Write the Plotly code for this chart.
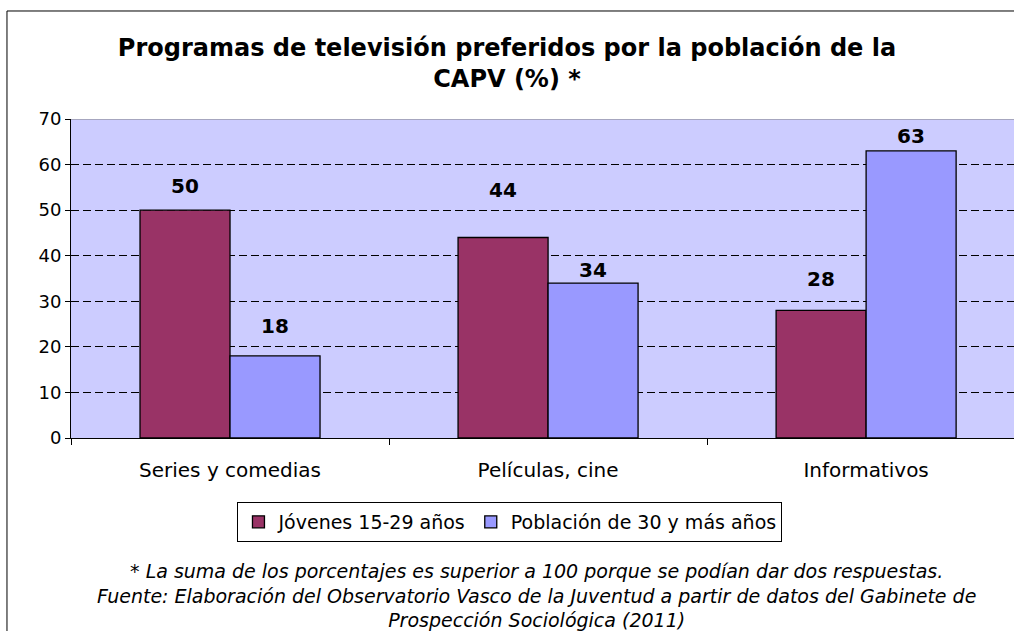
import plotly.graph_objects as go

# Data
categories = ["Series y comedias", "Películas, cine", "Informativos"]
jovenes = [50, 44, 28]
adultos = [18, 34, 63]
series_names = ["Jóvenes 15-29 años", "Población de 30 y más años"]
y_ticks = [0, 10, 20, 30, 40, 50, 60, 70]

title_text = "Programas de televisión preferidos por la población de la<br>CAPV (%) *"
note_text = (
    "* La suma de los porcentajes es superior a 100 porque se podían dar dos respuestas.<br>"
    "Fuente: Elaboración del Observatorio Vasco de la Juventud a partir de datos del Gabinete de<br>"
    "Prospección Sociológica (2011)"
)

# label offsets above bar tops (px), placed by hand in the original
shift_jov = [24, 47, 31]
shift_adu = [30, 13, 15]

FONT = "DejaVu Sans, Verdana, sans-serif"

fig = go.Figure()
fig.add_trace(go.Bar(
    x=categories, y=jovenes, name=series_names[0],
    marker=dict(color="#993366", line=dict(color="black", width=1.3)),
))
fig.add_trace(go.Bar(
    x=categories, y=adultos, name=series_names[1],
    marker=dict(color="#9999FF", line=dict(color="black", width=1.3)),
))

# data labels
for cat, v, s in zip(categories, jovenes, shift_jov):
    fig.add_annotation(x=cat, y=v, text=f"<b>{v}</b>", showarrow=False,
                       xshift=-45, yshift=s, yanchor="middle",
                       font=dict(family=FONT, size=20, color="black"))
for cat, v, s in zip(categories, adultos, shift_adu):
    fig.add_annotation(x=cat, y=v, text=f"<b>{v}</b>", showarrow=False,
                       xshift=45, yshift=s, yanchor="middle",
                       font=dict(family=FONT, size=20, color="black"))

# footnote
fig.add_annotation(xref="paper", yref="paper", x=0.494, y=-0.495,
                   text=f"<i>{note_text}</i>", showarrow=False,
                   xanchor="center", yanchor="middle", align="center",
                   font=dict(family=FONT, size=19, color="black"))

# top border of plot area
fig.add_shape(type="line", xref="paper", yref="y", x0=0, x1=1, y0=70, y1=70,
              line=dict(color="#808080", width=1))
# outer chart border
fig.add_shape(type="rect", xref="paper", yref="paper",
              x0=-0.0679, x1=1.05, y0=-1.2, y1=1.3386,
              line=dict(color="black", width=1), layer="above")

fig.update_layout(
    width=1014, height=631,
    margin=dict(l=71, r=0, t=119, b=193),
    paper_bgcolor="white",
    plot_bgcolor="#CCCCFF",
    barmode="group",
    bargap=0.434,
    bargroupgap=0,
    font=dict(family=FONT, size=19, color="black"),
    title=dict(text=f"<b>{title_text}</b>", x=0.5, xref="container",
               y=1 - 56 / 631, yanchor="middle", xanchor="center",
               font=dict(family=FONT, size=24, color="black")),
    legend=dict(orientation="h", x=0.4655, xanchor="center",
                y=-0.2006, yanchor="top",
                bordercolor="black", borderwidth=1,
                font=dict(family=FONT, size=19, color="black"),
                itemwidth=30, traceorder="normal"),
    xaxis=dict(range=[-0.5, 2.465], autorange=False,
               showline=True, linecolor="black", linewidth=1,
               ticks="outside", tickson="boundaries", ticklen=6,
               tickcolor="black", showgrid=False, ticklabelstandoff=14,
               tickfont=dict(family=FONT, size=20)),
    yaxis=dict(range=[0, 70], autorange=False, tickvals=y_ticks,
               showline=True, linecolor="black", linewidth=1,
               ticks="outside", ticklen=5, tickcolor="black",
               showgrid=True, gridcolor="black", gridwidth=1,
               griddash="8px,4px", zeroline=False,
               tickfont=dict(family=FONT, size=18)),
)

fig.write_html("out.html", config={"displayModeBar": False},
               post_script="document.body.style.margin='0';")
